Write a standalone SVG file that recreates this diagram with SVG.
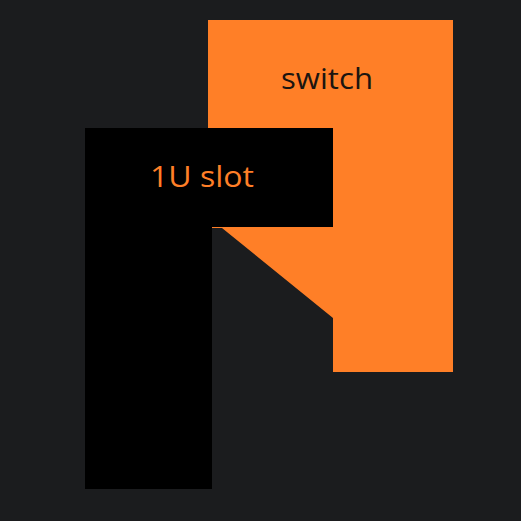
<svg xmlns="http://www.w3.org/2000/svg" width="521" height="521" viewBox="0 0 521 521">
<style>
.lbl{font-family:"Open Sans","Liberation Sans",sans-serif;font-size:29px;text-anchor:middle}
</style>
<rect width="521" height="521" fill="#1b1c1e"/>
<g id="switch">
<polygon points="208,20 453,20 453,372 333,372 333,318 222,228 208,228" fill="#ff7f27"/>
<text class="lbl" x="327" y="89" fill="#1b1510" textLength="92" lengthAdjust="spacingAndGlyphs">switch</text>
</g>
<g id="slot">
<polygon points="85,128 333,128 333,227 212,227 212,489 85,489" fill="#000000"/>
<text class="lbl" x="202" y="187" fill="#ff7f27" textLength="104" lengthAdjust="spacingAndGlyphs">1U slot</text>
</g>
</svg>
